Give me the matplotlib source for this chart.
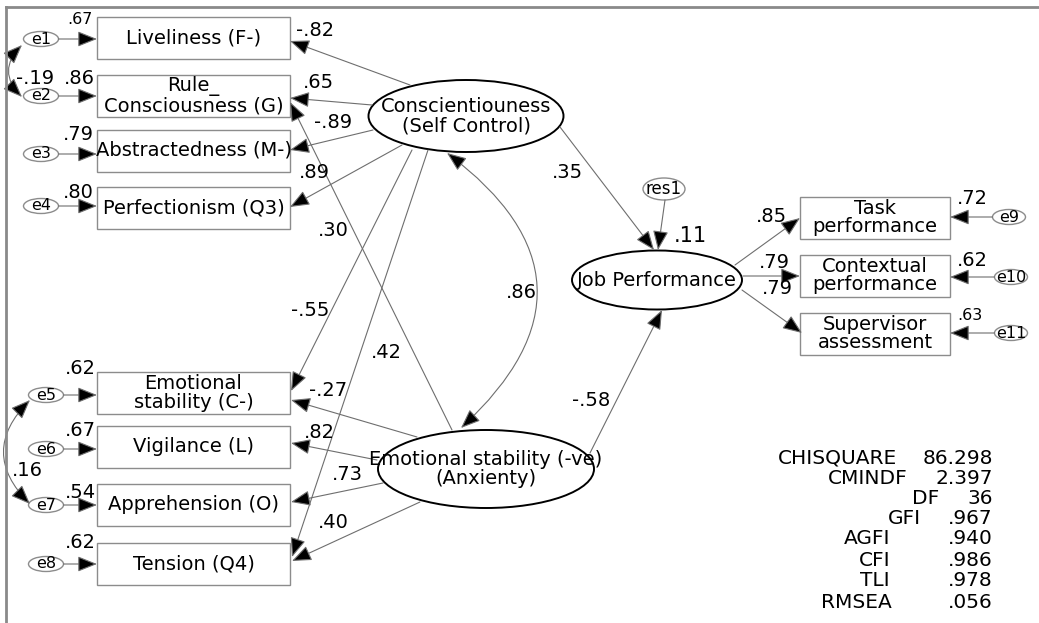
import matplotlib
matplotlib.use('Agg')
import matplotlib.pyplot as plt
from matplotlib.patches import Ellipse, Rectangle, FancyArrowPatch

# ---- diagram content ----
consc_items = ['Liveliness (F-)', 'Rule_\nConsciousness (G)', 'Abstractedness (M-)', 'Perfectionism (Q3)']
anx_items = ['Emotional\nstability (C-)', 'Vigilance (L)', 'Apprehension (O)', 'Tension (Q4)']
perf_items = ['Task\nperformance', 'Contextual\nperformance', 'Supervisor\nassessment']
left_errors = ['e1', 'e2', 'e3', 'e4', 'e5', 'e6', 'e7', 'e8']
right_errors = ['e9', 'e10', 'e11']
left_r2 = ['.67', '.86', '.79', '.80', '.62', '.67', '.54', '.62']
right_r2 = ['.72', '.62', '.63']
consc_load = ['-.82', '.65', '-.89', '.89']
anx_load = ['-.27', '.82', '.73', '.40']
perf_load = ['.85', '.79', '.79']
cross_load = ['.30', '-.55', '.42']   # anx->G, consc->C-, consc->Q4
struct_paths = ['.35', '-.58']        # consc->JP, anx->JP
latent_corr = '.86'
err_cov = ['-.19', '.16']             # e1-e2, e5-e7
jp_r2 = '.11'
fit_names = ['CHISQUARE', 'CMINDF', 'DF', 'GFI', 'AGFI', 'CFI', 'TLI', 'RMSEA']
fit_values = ['86.298', '2.397', '36', '.967', '.940', '.986', '.978', '.056']

# ---- layout (pixel space) ----
left_box_y = [37.5, 95.5, 150.5, 207.5, 393, 447, 504.5, 564]
left_err_x = [41, 41, 41, 41, 46, 46, 46, 46]
left_err_y = [39, 96, 154, 206, 395, 449, 505, 564]
left_r2_xy = [(80, 20), (79, 78), (78, 135), (78, 193), (80, 368), (80, 430), (80, 493), (80, 542)]
right_box_y = [217.5, 275.5, 333.5]
right_err_xy = [(1009, 217), (1011, 277), (1011, 333)]
right_r2_xy = [(972, 198), (972, 260), (970, 316)]

consc_c, consc_w, consc_h = (466, 116), 195, 72
anx_c, anx_w, anx_h = (486, 469), 216, 78
jp_c, jp_w, jp_h = (657, 280), 170, 59
res_c = (664, 189)

consc_edges = [((410, 85), (290, 41)), ((372, 105), (290, 98)),
               ((373, 130), (290, 150)), ((402, 145), (290, 207))]
consc_lab_xy = [(315, 30), (318, 83), (333, 122), (314, 173)]
anx_edges = [((417, 437), (291, 400)), ((377, 460), (291, 443)),
             ((383, 483), (291, 502)), ((420, 502), (292, 561))]
anx_lab_xy = [(328, 391), (319, 433), (347, 475), (333, 523)]
cross_edges = [((452, 430), (290, 102)), ((412, 150), (291, 391)), ((428, 150), (292, 557))]
cross_lab_xy = [(333, 230), (310, 310), (386, 352)]
perf_edges = [((735, 265), (800, 218)), ((743, 276), (800, 276)), ((742, 290), (802, 333))]
perf_lab_xy = [(771, 216), (774, 263), (777, 288)]
struct_edges = [((560, 127), (654, 250)), ((590, 453), (662, 310))]
struct_lab_xy = [(567, 173), (591, 400)]

fig = plt.figure(figsize=(10.39, 6.23), dpi=100)
ax = fig.add_axes([0, 0, 1, 1])
ax.set_xlim(0, 1039)
ax.set_ylim(623, 0)
ax.axis('off')

BOX_EC = '#8c8c8c'
LINE_C = '#6e6e6e'


def box(x0, x1, yc, text, h=42, fs=14):
    ax.add_patch(Rectangle((x0, yc - h / 2), x1 - x0, h, fill=False, ec=BOX_EC, lw=1))
    ax.text((x0 + x1) / 2, yc, text, ha='center', va='center', fontsize=fs,
            linespacing=1.0)


def ellipse(c, w, h, text, fs, ec='k', lw=1.4):
    ax.add_patch(Ellipse(c, w, h, fill=False, ec=ec, lw=lw))
    ax.text(c[0], c[1], text, ha='center', va='center', fontsize=fs, linespacing=1.0)


def arrow(a, b, style='-|>', rad=0.0):
    ax.add_patch(FancyArrowPatch(a, b, arrowstyle=style + ',head_length=0.8,head_width=0.32',
                                 connectionstyle='arc3,rad=%s' % rad,
                                 mutation_scale=15, lw=0.8, ec=LINE_C, fc='k',
                                 shrinkA=0, shrinkB=0))


def label(xy, s, fs=14, ha='center'):
    ax.text(xy[0], xy[1], s, ha=ha, va='center', fontsize=fs)


# frame (top and left edges only visible)
ax.plot([6, 6], [623, 7], color='#8a8a8a', lw=2)
ax.plot([6, 1039], [7, 7], color='#8a8a8a', lw=2)

# left indicators with their errors
for i, name in enumerate(consc_items + anx_items):
    box(97, 290, left_box_y[i], name)
    ex, ey = left_err_x[i], left_err_y[i]
    ellipse((ex, ey), 35, 15, left_errors[i], 11.5, ec=BOX_EC, lw=1)
    arrow((ex + 17.5, ey), (97, ey))
    label(left_r2_xy[i], left_r2[i], fs=11.5 if i == 0 else 14)

# right indicators
for i, name in enumerate(perf_items):
    box(800, 950, right_box_y[i], name)
    ex, ey = right_err_xy[i]
    ellipse((ex, ey), 33, 15, right_errors[i], 11.5, ec=BOX_EC, lw=1)
    arrow((ex - 16.5, ey), (950, ey))
    label(right_r2_xy[i], right_r2[i], fs=11.5 if i == 2 else 14)

# latent variables
ellipse(consc_c, consc_w, consc_h, 'Conscientiouness\n(Self Control)', 14)
ellipse(anx_c, anx_w, anx_h, 'Emotional stability (-ve)\n(Anxienty)', 14)
ellipse(jp_c, jp_w, jp_h, 'Job Performance', 14)
ellipse(res_c, 42, 22, 'res1', 12, ec=BOX_EC, lw=1)
arrow((665, 200), (658, 250))
label((690, 236), jp_r2, fs=15)

for (a, b), s, xy in zip(consc_edges, consc_load, consc_lab_xy):
    arrow(a, b)
    label(xy, s)
for (a, b), s, xy in zip(anx_edges, anx_load, anx_lab_xy):
    arrow(a, b)
    label(xy, s)
for (a, b), s, xy in zip(cross_edges, cross_load, cross_lab_xy):
    arrow(a, b)
    label(xy, s)
for (a, b), s, xy in zip(perf_edges, perf_load, perf_lab_xy):
    arrow(a, b)
    label(xy, s)
for (a, b), s, xy in zip(struct_edges, struct_paths, struct_lab_xy):
    arrow(a, b)
    label(xy, s)

# correlation between latent factors
arrow((447, 153), (461, 428), style='<|-|>', rad=-0.6)
label((521, 292), latent_corr)

# error covariances
arrow((22, 45), (22, 97), style='<|-|>', rad=0.5)
label((35, 78), err_cov[0])
arrow((30, 400), (30, 504), style='<|-|>', rad=0.5)
label((27, 470), err_cov[1])

# fit statistics
name_right = [897, 908, 939, 921, 890, 890, 890, 892]
row_y = [458, 479, 499, 519, 539, 560, 581, 602]
for n, v, xr, y in zip(fit_names, fit_values, name_right, row_y):
    ax.text(xr, y, n, ha='right', va='center', fontsize=14.5)
    ax.text(993, y, v, ha='right', va='center', fontsize=14.5)

fig.savefig('out.png', dpi=100)
